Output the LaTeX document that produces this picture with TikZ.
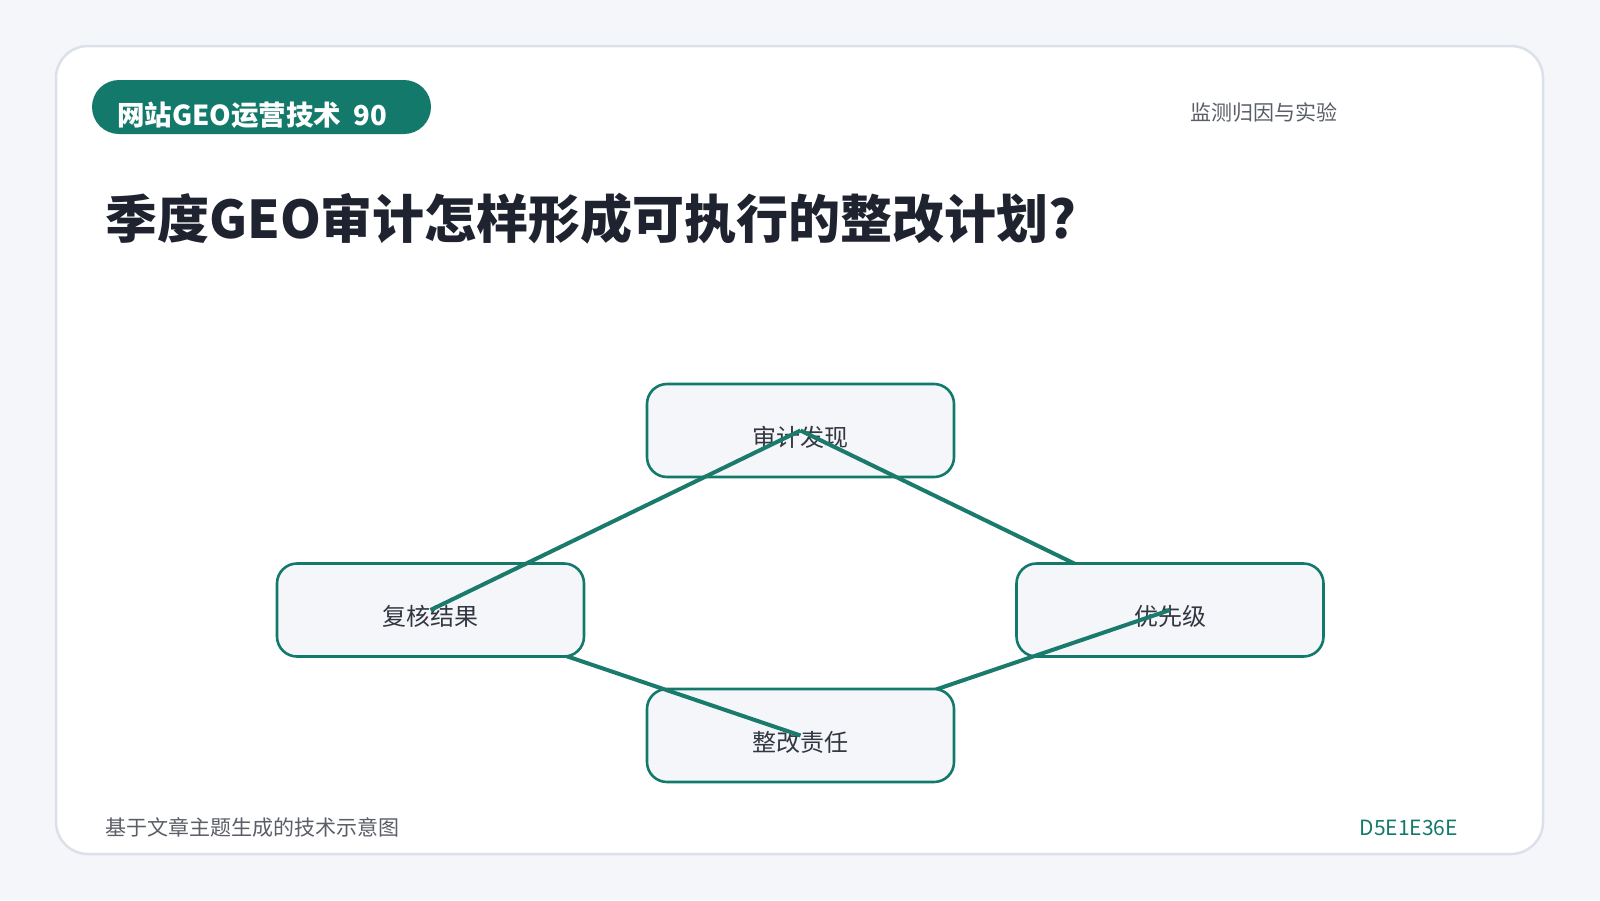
\documentclass[tikz,border=0pt]{standalone}
\usepackage{fontspec}
\setmainfont{Noto Sans CJK SC}
\definecolor{bgc}{HTML}{F4F6FA}
\definecolor{cardline}{HTML}{DCE0E8}
\definecolor{teal}{HTML}{137A6B}
\definecolor{edgec}{HTML}{1A7A6C}
\definecolor{boxfill}{HTML}{F4F6FA}
\definecolor{titlec}{HTML}{1F2330}
\definecolor{nodetext}{HTML}{333740}
\definecolor{graytext}{HTML}{5A5E66}
\tikzset{
  flowbox/.style={draw=teal, line width=2.6pt, fill=boxfill, rounded corners=20pt,
    minimum width=307pt, minimum height=93pt, inner sep=0pt},
  boxlabel/.style={inner sep=0pt, text=nodetext, font=\fontsize{24}{28}\selectfont},
  link/.style={draw=edgec, line width=4pt},
}
\begin{document}
\begin{tikzpicture}[x=1pt,y=-1pt]
\useasboundingbox (0,0) rectangle (1600,900);
\fill[bgc] (0,0) rectangle (1600,900);
\draw[cardline, line width=2.5pt, fill=white, rounded corners=32pt] (56,46) rectangle (1543,854);
% pill
\fill[teal, rounded corners=27pt] (92,80) rectangle (431,134);
\node[anchor=base west, inner sep=0pt, text=white, font=\bfseries\fontsize{27.5}{32}\selectfont] (pill) at (117,125) {网站GEO运营技术\hspace{12pt}90};
\node[anchor=base west, inner sep=0pt, text=graytext, font=\fontsize{21}{25}\selectfont] (section) at (1190,120) {监测归因与实验};
\node[anchor=base west, inner sep=0pt, text=titlec, font=\bfseries\fontsize{52}{60}\selectfont] (title) at (105,238) {季度GEO审计怎样形成可执行的整改计划?};
\node[anchor=base west, inner sep=0pt, text=graytext, font=\fontsize{21}{25}\selectfont] (foot) at (105,835) {基于文章主题生成的技术示意图};
\node[anchor=base east, inner sep=0pt, text=teal, font=\fontsize{21}{25}\selectfont] (code) at (1458,835) {D5E1E36E};
% diagram
\node[flowbox] (A) at (800.5,430.5) {};
\node[boxlabel] (Al) at (800.5,437) {审计发现};
\draw[link] (A.center) -- (1170,610);
\node[flowbox] (B) at (1170,610) {};
\node[boxlabel] (Bl) at (1170,616) {优先级};
\draw[link] (B.center) -- (800.5,735.5);
\node[flowbox] (C) at (800.5,735.5) {};
\node[boxlabel] (Cl) at (800.5,742) {整改责任};
\draw[link] (C.center) -- (430.5,610);
\node[flowbox] (D) at (430.5,610) {};
\node[boxlabel] (Dl) at (430.5,616) {复核结果};
\draw[link] (D.center) -- (A.center);
\end{tikzpicture}
\end{document}
